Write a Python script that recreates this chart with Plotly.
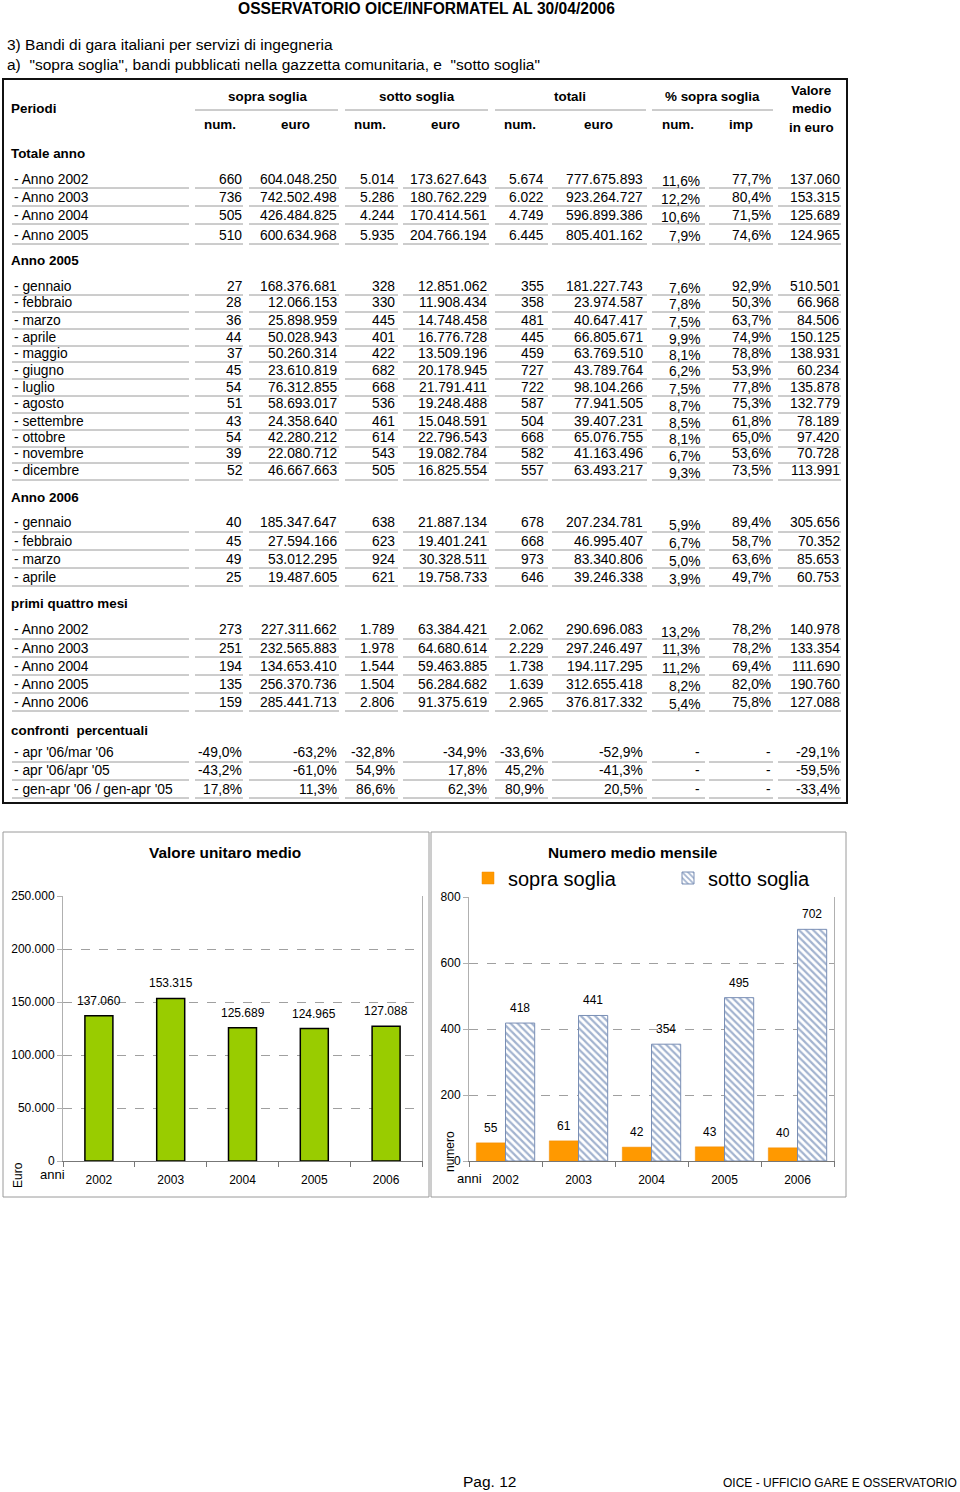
import plotly.graph_objects as go

W, H = 960, 1492
FONT = "Liberation Sans, Arial, Helvetica, sans-serif"

# ---------------- DATA ----------------
page_title = "OSSERVATORIO OICE/INFORMATEL AL 30/04/2006"
subtitle1 = "3) Bandi di gara italiani per servizi di ingegneria"
subtitle2 = 'a)  "sopra soglia", bandi pubblicati nella gazzetta comunitaria, e  "sotto soglia"'

group_headers = ["sopra soglia", "sotto soglia", "totali", "% sopra soglia"]
sub_headers = ["num.", "euro", "num.", "euro", "num.", "euro", "num.", "imp"]
valore_header = ["Valore", "medio", "in euro"]

totale_labels = ["- Anno 2002", "- Anno 2003", "- Anno 2004", "- Anno 2005"]
totale_rows = [
    ["660", "604.048.250", "5.014", "173.627.643", "5.674", "777.675.893", "11,6%", "77,7%", "137.060"],
    ["736", "742.502.498", "5.286", "180.762.229", "6.022", "923.264.727", "12,2%", "80,4%", "153.315"],
    ["505", "426.484.825", "4.244", "170.414.561", "4.749", "596.899.386", "10,6%", "71,5%", "125.689"],
    ["510", "600.634.968", "5.935", "204.766.194", "6.445", "805.401.162", "7,9%", "74,6%", "124.965"],
]
mesi2005_labels = ["- gennaio", "- febbraio", "- marzo", "- aprile", "- maggio", "- giugno",
                   "- luglio", "- agosto", "- settembre", "- ottobre", "- novembre", "- dicembre"]
mesi2005_rows = [
    ["27", "168.376.681", "328", "12.851.062", "355", "181.227.743", "7,6%", "92,9%", "510.501"],
    ["28", "12.066.153", "330", "11.908.434", "358", "23.974.587", "7,8%", "50,3%", "66.968"],
    ["36", "25.898.959", "445", "14.748.458", "481", "40.647.417", "7,5%", "63,7%", "84.506"],
    ["44", "50.028.943", "401", "16.776.728", "445", "66.805.671", "9,9%", "74,9%", "150.125"],
    ["37", "50.260.314", "422", "13.509.196", "459", "63.769.510", "8,1%", "78,8%", "138.931"],
    ["45", "23.610.819", "682", "20.178.945", "727", "43.789.764", "6,2%", "53,9%", "60.234"],
    ["54", "76.312.855", "668", "21.791.411", "722", "98.104.266", "7,5%", "77,8%", "135.878"],
    ["51", "58.693.017", "536", "19.248.488", "587", "77.941.505", "8,7%", "75,3%", "132.779"],
    ["43", "24.358.640", "461", "15.048.591", "504", "39.407.231", "8,5%", "61,8%", "78.189"],
    ["54", "42.280.212", "614", "22.796.543", "668", "65.076.755", "8,1%", "65,0%", "97.420"],
    ["39", "22.080.712", "543", "19.082.784", "582", "41.163.496", "6,7%", "53,6%", "70.728"],
    ["52", "46.667.663", "505", "16.825.554", "557", "63.493.217", "9,3%", "73,5%", "113.991"],
]
mesi2006_labels = ["- gennaio", "- febbraio", "- marzo", "- aprile"]
mesi2006_rows = [
    ["40", "185.347.647", "638", "21.887.134", "678", "207.234.781", "5,9%", "89,4%", "305.656"],
    ["45", "27.594.166", "623", "19.401.241", "668", "46.995.407", "6,7%", "58,7%", "70.352"],
    ["49", "53.012.295", "924", "30.328.511", "973", "83.340.806", "5,0%", "63,6%", "85.653"],
    ["25", "19.487.605", "621", "19.758.733", "646", "39.246.338", "3,9%", "49,7%", "60.753"],
]
primi_labels = ["- Anno 2002", "- Anno 2003", "- Anno 2004", "- Anno 2005", "- Anno 2006"]
primi_rows = [
    ["273", "227.311.662", "1.789", "63.384.421", "2.062", "290.696.083", "13,2%", "78,2%", "140.978"],
    ["251", "232.565.883", "1.978", "64.680.614", "2.229", "297.246.497", "11,3%", "78,2%", "133.354"],
    ["194", "134.653.410", "1.544", "59.463.885", "1.738", "194.117.295", "11,2%", "69,4%", "111.690"],
    ["135", "256.370.736", "1.504", "56.284.682", "1.639", "312.655.418", "8,2%", "82,0%", "190.760"],
    ["159", "285.441.713", "2.806", "91.375.619", "2.965", "376.817.332", "5,4%", "75,8%", "127.088"],
]
confronti_labels = ["- apr '06/mar '06", "- apr '06/apr '05", "- gen-apr '06 / gen-apr '05"]
confronti_rows = [
    ["-49,0%", "-63,2%", "-32,8%", "-34,9%", "-33,6%", "-52,9%", "-", "-", "-29,1%"],
    ["-43,2%", "-61,0%", "54,9%", "17,8%", "45,2%", "-41,3%", "-", "-", "-59,5%"],
    ["17,8%", "11,3%", "86,6%", "62,3%", "80,9%", "20,5%", "-", "-", "-33,4%"],
]
section_titles = ["Totale anno", "Anno 2005", "Anno 2006", "primi quattro mesi", "confronti  percentuali"]

anni = ["2002", "2003", "2004", "2005", "2006"]
valore_medio = [137060, 153315, 125689, 124965, 127088]
sopra_medio = [55, 61, 42, 43, 40]
sotto_medio = [418, 441, 354, 495, 702]

footer_left = "Pag. 12"
footer_right = "OICE - UFFICIO GARE E OSSERVATORIO"

# ---------------- LAYOUT HELPERS ----------------
ann = []
shapes = []


def px(x):
    return x / W


def py(y):
    return 1 - y / H


def txt(x, y, s, anchor="left", size=13.8, bold=False, color="black"):
    ann.append(dict(x=px(x), y=py(y), xref="paper", yref="paper",
                    text=("<b>%s</b>" % s) if bold else s, showarrow=False,
                    xanchor=anchor, yanchor="middle",
                    font=dict(size=size, family=FONT, color=color)))


def hline(x0, x1, y, color="#9a9a9a", width=1):
    shapes.append(dict(type="line", xref="paper", yref="paper",
                       x0=px(x0), x1=px(x1), y0=py(y), y1=py(y),
                       line=dict(color=color, width=width)))


def rect(x0, y0, x1, y1, color, width):
    shapes.append(dict(type="rect", xref="paper", yref="paper",
                       x0=px(x0), x1=px(x1), y0=py(y0), y1=py(y1),
                       line=dict(color=color, width=width), fillcolor="rgba(0,0,0,0)"))


BOLD_SIZE = 13.4

# page texts
txt(426, 9, page_title, anchor="center", size=15.6, bold=True)
txt(5, 45, subtitle1, size=15.5)
txt(5, 64, subtitle2, size=15.5)

# table frame
rect(3, 79, 847, 803, "#111111", 2)

# header
group_centers = [267, 417, 570, 712]
for c, s in zip(group_centers, group_headers):
    txt(c, 96, s, anchor="center", bold=True, size=BOLD_SIZE)
for (a, b) in [(195, 338), (345, 488), (495, 646), (652, 773)]:
    hline(a, b, 110)
sub_centers = [220, 295, 370, 445, 520, 598, 678, 741]
for c, s in zip(sub_centers, sub_headers):
    txt(c, 124, s, anchor="center", bold=True, size=BOLD_SIZE)
for yy, s in zip([91, 109, 127], valore_header):
    txt(811, yy, s, anchor="center", bold=True, size=BOLD_SIZE)
txt(9, 109, "Periodi", bold=True, size=BOLD_SIZE)

col_right = [244, 339, 397, 489, 546, 645, 702, 773, 842]
segments = [(12, 189), (195, 243), (249, 339), (345, 398), (403, 489),
            (495, 548), (552, 647), (652, 705), (709, 773), (778, 841)]

sections = [
    (section_titles[0], 153, totale_labels, totale_rows, [179, 197, 215, 235]),
    (section_titles[1], 261, mesi2005_labels, mesi2005_rows,
     [286, 303, 320, 337, 353, 370, 387, 404, 421, 438, 454, 471]),
    (section_titles[2], 497, mesi2006_labels, mesi2006_rows, [523, 541, 559, 577]),
    (section_titles[3], 603, primi_labels, primi_rows, [630, 648, 666, 684, 702]),
    (section_titles[4], 730, confronti_labels, confronti_rows, [753, 771, 789]),
]

for si, (title, ty, labels, rows, ys) in enumerate(sections):
    txt(9, ty, title, bold=True, size=BOLD_SIZE)
    for lab, row, yy in zip(labels, rows, ys):
        txt(12, yy, lab)
        for ci, (val, xr) in enumerate(zip(row, col_right)):
            dy = 2 if (ci == 6 and si < 4) else 0
            txt(xr, yy + dy, val, anchor="right")
        for (a, b) in segments:
            hline(a, b, yy + 9)

# chart frames
rect(3, 832, 429, 1197, "#9a9a9a", 1)
rect(431, 832, 846, 1197, "#9a9a9a", 1)

# chart titles and axis texts
txt(225, 852, "Valore unitaro medio", anchor="center", size=15.4, bold=True)
txt(633, 852, "Numero medio mensile", anchor="center", size=15.4, bold=True)
txt(52, 1174, "anni", anchor="center", size=13)
txt(469, 1178, "anni", anchor="center", size=13)
ann.append(dict(x=px(18), y=py(1175), xref="paper", yref="paper", text="Euro",
                showarrow=False, textangle=-90, xanchor="center", yanchor="middle",
                font=dict(size=12, family=FONT, color="black")))
ann.append(dict(x=px(450), y=py(1152), xref="paper", yref="paper", text="numero",
                showarrow=False, textangle=-90, xanchor="center", yanchor="middle",
                font=dict(size=12, family=FONT, color="black")))

# footer
txt(490, 1481, footer_left, anchor="center", size=15.5)
txt(840, 1483, footer_right, anchor="center", size=12)


def it_fmt(v):
    return "{:,}".format(v).replace(",", ".")


# value labels on charts
for i, v in enumerate(valore_medio):
    ann.append(dict(x=i, y=v, xref="x", yref="y", text=it_fmt(v), showarrow=False,
                    xanchor="center", yanchor="bottom", yshift=6,
                    font=dict(size=12, family=FONT, color="black")))
for i, (a, b) in enumerate(zip(sopra_medio, sotto_medio)):
    ann.append(dict(x=i - 0.2, y=a, xref="x2", yref="y2", text=it_fmt(a), showarrow=False,
                    xanchor="center", yanchor="bottom", yshift=6,
                    font=dict(size=12, family=FONT, color="black")))
    ann.append(dict(x=i + 0.2, y=b, xref="x2", yref="y2", text=it_fmt(b), showarrow=False,
                    xanchor="center", yanchor="bottom", yshift=6,
                    font=dict(size=12, family=FONT, color="black")))

# ---------------- TRACES ----------------
fig = go.Figure()
fig.add_trace(go.Bar(x=anni, y=valore_medio, xaxis="x", yaxis="y", width=0.39,
                     marker=dict(color="#99cc00", line=dict(color="black", width=1.5)),
                     showlegend=False, hoverinfo="x+y"))
fig.add_trace(go.Bar(x=anni, y=sopra_medio, xaxis="x2", yaxis="y2", name="sopra soglia",
                     marker=dict(color="#ff9900", line=dict(color="#f08a00", width=0.5))))
fig.add_trace(go.Bar(x=anni, y=sotto_medio, xaxis="x2", yaxis="y2", name="sotto soglia",
                     marker=dict(color="white",
                                 pattern=dict(shape="\\", fgcolor="#46679f", bgcolor="white",
                                              size=5, solidity=0.45),
                                 line=dict(color="#7a8fb5", width=1))))

grid = dict(showgrid=True, gridcolor="#a0a0a0", griddash="dash", gridwidth=1, zeroline=False,
            showline=True, linecolor="#b0b0b0", mirror=True, ticks="outside", ticklen=5,
            tickcolor="#b0b0b0", tickfont=dict(size=12, family=FONT, color="black"))
xcommon = dict(type="category", tickson="boundaries", ticks="outside", ticklen=5,
               tickcolor="#777", showline=True, linecolor="#777", showgrid=False,
               ticklabelstandoff=8,
               tickfont=dict(size=12, family=FONT, color="black"))

fig.update_layout(
    width=W, height=H, margin=dict(l=0, r=0, t=0, b=0, autoexpand=False),
    paper_bgcolor="white", plot_bgcolor="white",
    separators=",.",
    barmode="group", bargap=0.2, bargroupgap=0,
    font=dict(family=FONT, color="black"),
    xaxis=dict(domain=[px(63), px(422)], anchor="y", **xcommon),
    yaxis=dict(domain=[py(1161), py(896)], anchor="x", range=[0, 250000],
               tickvals=[0, 50000, 100000, 150000, 200000, 250000], tickformat=",.0f", **grid),
    xaxis2=dict(domain=[px(469), px(834)], anchor="y2", **xcommon),
    yaxis2=dict(domain=[py(1161), py(897)], anchor="x2", range=[0, 800],
                tickvals=[0, 200, 400, 600, 800], tickformat=",.0f", **grid),
    legend=dict(orientation="h", x=px(468), y=py(878), xanchor="left", yanchor="middle",
                font=dict(size=20, family=FONT, color="black"), bgcolor="rgba(0,0,0,0)",
                entrywidth=155, itemwidth=30),
    annotations=ann,
    shapes=shapes,
)

fig.write_html("out.html", config={"displayModeBar": False},
               post_script="document.body.style.margin='0px';document.body.style.overflow='hidden';")
